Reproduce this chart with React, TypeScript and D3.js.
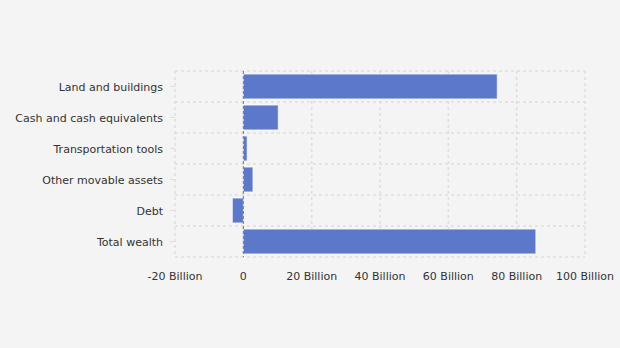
import React from "react";
import * as d3 from "d3";

const categories = [
  "Land and buildings",
  "Cash and cash equivalents",
  "Transportation tools",
  "Other movable assets",
  "Debt",
  "Total wealth",
];
const values = [74.3, 10.2, 1.1, 2.8, -3.2, 85.6];
const xTicks = [-20, 0, 20, 40, 60, 80, 100];
const tickLabel = (v: number) => (v === 0 ? "0" : `${v} Billion`);

export default function App() {
  const W = 620, H = 348;
  const left = 175, right = 585, top = 71, bottom = 257;
  const x = d3.scaleLinear().domain([-20, 100]).range([left, right]);
  const y = d3.scaleBand<string>().domain(categories).range([top, bottom]).paddingInner(0).paddingOuter(0);
  const bw = y.bandwidth();
  const pad = bw * 0.1;
  const font = "'DejaVu Sans', Verdana, sans-serif";
  return (
    <svg width={W} height={H} style={{ position: "absolute", left: 0, top: 0, background: "#f4f4f4" }}>
      <rect x={0} y={0} width={W} height={H} fill="#f4f4f4" />
      {xTicks.map((t) => (
        <line key={"v" + t} x1={x(t)} x2={x(t)} y1={top} y2={bottom} stroke="#dedede" strokeWidth={1.5} strokeDasharray="3,3" />
      ))}
      {d3.range(categories.length + 1).map((i) => {
        const yy = top + i * bw;
        return <line key={"h" + i} x1={left} x2={right} y1={yy} y2={yy} stroke="#dedede" strokeWidth={1.5} strokeDasharray="3,3" />;
      })}
      {categories.map((c, i) => {
        const v = values[i];
        const x0 = x(Math.min(0, v));
        const x1 = x(Math.max(0, v));
        return (
          <rect key={c} x={x0} y={(y(c) as number) + pad} width={x1 - x0} height={bw - 2 * pad}
            fill="#5c78ca" stroke="#ffffff" strokeOpacity={0.6} strokeWidth={1} />
        );
      })}
      <line x1={x(0)} x2={x(0)} y1={top} y2={bottom} stroke="#777" strokeWidth={1} strokeDasharray="3,2" />
      {categories.map((c) => {
        const cy = (y(c) as number) + bw / 2;
        return (
          <g key={"l" + c}>
            <line x1={left - 5} x2={left} y1={cy} y2={cy} stroke="#e0e0e0" strokeWidth={1} />
            <text x={left - 12} y={cy + 1} textAnchor="end" dominantBaseline="central" fontFamily={font} fontSize={11} fill="#333">
              {c}
            </text>
          </g>
        );
      })}
      {xTicks.map((t) => (
        <text key={"t" + t} x={x(t)} y={276} textAnchor="middle" dominantBaseline="central" fontFamily={font} fontSize={11} fill="#333">
          {tickLabel(t)}
        </text>
      ))}
    </svg>
  );
}
